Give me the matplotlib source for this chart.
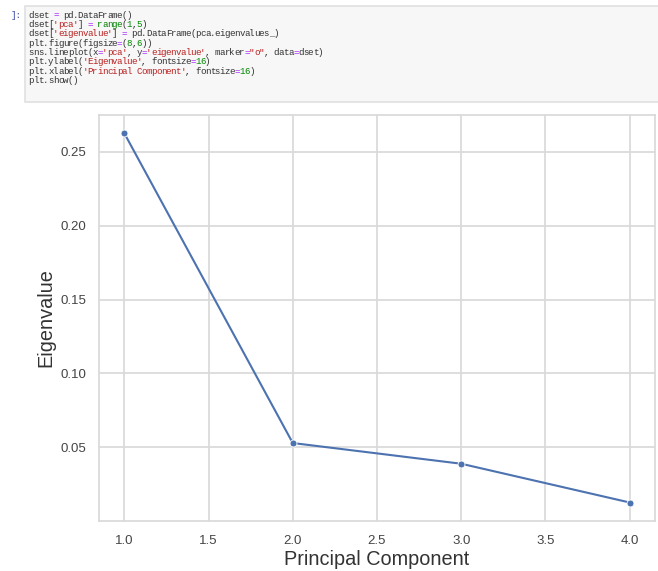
import matplotlib
matplotlib.use("Agg")
import matplotlib.pyplot as plt
from matplotlib.patches import Rectangle

# ---- data ----
pca = [1, 2, 3, 4]
eigenvalue = [0.2624, 0.0530, 0.0390, 0.0128]
xticks = [1.0, 1.5, 2.0, 2.5, 3.0, 3.5, 4.0]
yticks = [0.05, 0.10, 0.15, 0.20, 0.25]

code_lines = [
    [("dset ", "k"), ("=", "op"), (" pd.DataFrame()", "k")],
    [("dset[", "k"), ("'pca'", "s"), ("] ", "k"), ("=", "op"), (" ", "k"), ("range", "b"), ("(", "k"), ("1", "n"), (",", "k"), ("5", "n"), (")", "k")],
    [("dset[", "k"), ("'eigenvalue'", "s"), ("] ", "k"), ("=", "op"), (" pd.DataFrame(pca.eigenvalues_)", "k")],
    [("plt.figure(figsize", "k"), ("=", "op"), ("(", "k"), ("8", "n"), (",", "k"), ("6", "n"), ("))", "k")],
    [("sns.lineplot(x", "k"), ("=", "op"), ("'pca'", "s"), (", y", "k"), ("=", "op"), ("'eigenvalue'", "s"), (", marker", "k"), ("=", "op"), ('"o"', "s"), (", data", "k"), ("=", "op"), ("dset)", "k")],
    [("plt.ylabel(", "k"), ("'Eigenvalue'", "s"), (", fontsize", "k"), ("=", "op"), ("16", "n"), (")", "k")],
    [("plt.xlabel(", "k"), ("'Principal Component'", "s"), (", fontsize", "k"), ("=", "op"), ("16", "n"), (")", "k")],
    [("plt.show()", "k")],
]
code_colors = {"k": "#333333", "op": "#aa22ff", "s": "#ba2121", "n": "#008800", "b": "#008000"}

W, H = 658, 571
fig = plt.figure(figsize=(W / 100, H / 100), dpi=100)
fig.patch.set_facecolor("white")

def fx(px):
    return px / W

def fy(py):
    return 1 - py / H

# ---- code cell ----
fig.patches.append(Rectangle((fx(25), fy(102)), fx(640), (102 - 6) / H,
                             transform=fig.transFigure, facecolor="#f7f7f7",
                             edgecolor="#e0e0e0", linewidth=1.2))
fig.text(fx(11), fy(15), "]:", color="#303f9f", fontsize=6.6,
         family="Liberation Mono", va="center", ha="left")
char_w = 4.9
for i, line in enumerate(code_lines):
    y = 15 + i * 9.4
    col = 0
    for txt, kind in line:
        for ch in txt:
            if ch != " ":
                fig.text(fx(28.5 + col * char_w), fy(y), ch, color=code_colors[kind],
                         fontsize=6.6, family="Liberation Mono", va="center", ha="left")
            col += 1

# ---- chart ----
ax = fig.add_axes([fx(99), fy(521), fx(655 - 99), (521 - 115) / H])
ax.set_facecolor("white")
ax.plot(pca, eigenvalue, color="#4c72b0", linewidth=1.5, marker="o",
        markersize=5, markeredgecolor="white", markeredgewidth=0.6, zorder=3)
ax.set_xlim(0.85, 4.15)
ax.set_ylim(0.0003, 0.2747)
ax.set_xticks(xticks)
ax.set_yticks(yticks)
ax.set_xticklabels([f"{v:.1f}" for v in xticks])
ax.set_yticklabels([f"{v:.2f}" for v in yticks])
ax.grid(True, color="#d8d8d8", linewidth=1.2)
ax.set_axisbelow(True)
for s in ax.spines.values():
    s.set_color("#d8d8d8")
    s.set_linewidth(1.2)
ax.tick_params(axis="both", length=0, labelsize=9.5, labelcolor="#444444")
ax.tick_params(axis="x", pad=10)
ax.tick_params(axis="y", pad=9)
for lbl in ax.get_xticklabels() + ax.get_yticklabels():
    lbl.set_family("Liberation Sans")
ax.set_xlabel("Principal Component", fontsize=14.3, family="Liberation Sans",
              color="#333333", labelpad=2)
ax.set_ylabel("Eigenvalue", fontsize=14.3, family="Liberation Sans",
              color="#333333", labelpad=4)

fig.savefig("out.png", dpi=100)
